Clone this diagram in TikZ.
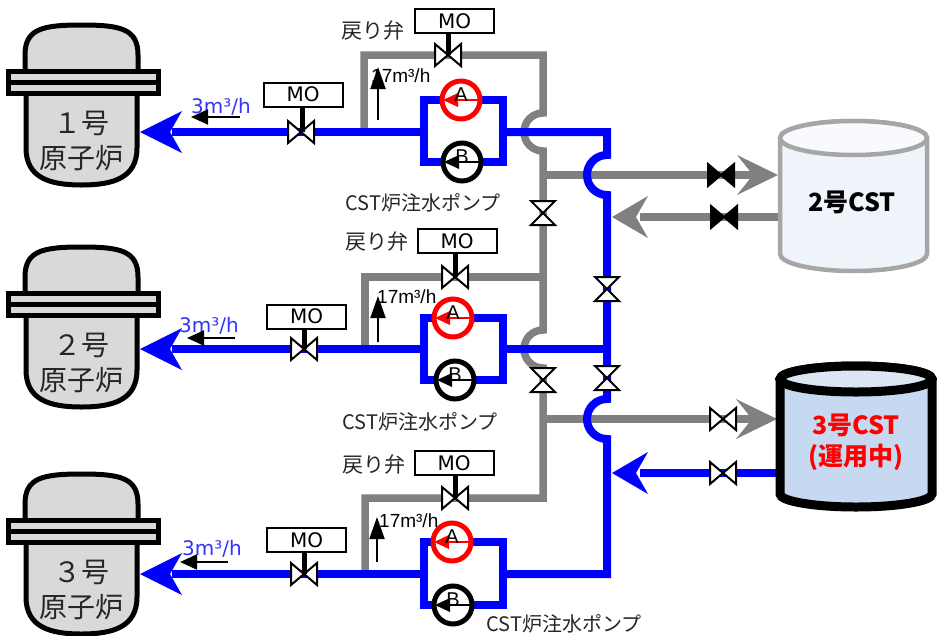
\documentclass[tikz,border=0pt]{standalone}
\usepackage{fontspec}
\setmainfont{Noto Sans CJK JP}
\newfontfamily\jpf{Noto Sans CJK JP}
\newfontfamily\dvsf{DejaVu Sans}
\newfontfamily\libf{Liberation Sans}
\usetikzlibrary{arrows.meta}
\definecolor{pblue}{HTML}{0000FF}
\definecolor{pgray}{HTML}{808080}
\definecolor{rfill}{HTML}{D9D9D9}
\definecolor{tktwofill}{HTML}{EFF3FA}
\definecolor{tktwotop}{HTML}{F8FAFD}
\definecolor{tktwoline}{HTML}{A6A6A6}
\definecolor{tkthreefill}{HTML}{C6D9F0}
\definecolor{tkthreetop}{HTML}{DCE6F2}
\definecolor{flowblue}{HTML}{3333FF}
\definecolor{lbl}{HTML}{262626}
\tikzset{
  bpipe/.style={draw=pblue, line width=8pt},
  gpipe/.style={draw=pgray, line width=7.5pt},
  valvest/.style={draw=black, fill=white, line width=2pt},
  valveblk/.style={draw=black, fill=black, line width=2pt},
  stem/.style={draw=black, line width=5pt},
  mobox/.style={draw=black, fill=white, line width=2pt, minimum width=79pt, minimum height=24pt, inner sep=0pt, font=\dvsf\fontsize{20}{20}\selectfont},
  reactor/.style={draw=black, fill=rfill, line width=5pt},
  rtext/.style={font=\jpf\fontsize{28}{28}\selectfont, text=lbl, inner sep=0pt},
  jlabel/.style={font=\jpf\fontsize{20}{20}\selectfont, text=lbl, inner sep=0pt, anchor=base},
  flowtxt/.style={font=\dvsf\fontsize{20}{20}\selectfont, text=flowblue, inner sep=0pt, anchor=base},
  rettxt/.style={font=\libf\fontsize{19}{19}\selectfont, text=black, inner sep=0pt, anchor=base west},
  smallarrow/.style={draw=black, line width=2pt, -{Triangle[length=17pt,width=15pt]}},
  uparrow/.style={draw=black, line width=2pt, -{Triangle[length=22pt,width=15pt]}},
  pumpc/.style={circle, line width=5pt, fill=white, minimum size=38pt, inner sep=0pt},
  pletter/.style={font=\libf\fontsize{20}{20}\selectfont, text=black, inner sep=0pt},
  tanktxt/.style={font=\jpf\bfseries\fontsize{25}{25}\selectfont, inner sep=0pt, anchor=base},
  hvalve/.pic={\path[valvest] (-13,-11) -- (13,11) -- (13,-11) -- (-13,11) -- cycle;},
  vvalve/.pic={\path[valvest] (-12,-12) -- (12,-12) -- (-12,12) -- (12,12) -- cycle;},
  hvalveb/.pic={\path[valveblk] (-13,-11) -- (13,11) -- (13,-11) -- (-13,11) -- cycle;}
}
\newcommand\drawreactor[3]{%
  \begin{scope}[shift={(0,#2)}]
    \filldraw[reactor] (25,1) -- (25,-16) .. controls (25,-42) and (42,-46) .. (81.5,-46) .. controls (121,-46) and (138,-42) .. (138,-16) -- (138,1);
    \filldraw[reactor] (26,21) -- (26,77) .. controls (26,107) and (50,114) .. (81.5,114) .. controls (113,114) and (137,107) .. (137,77) -- (137,21);
    \filldraw[reactor] (8,0) rectangle (158,11);
    \filldraw[reactor] (8,11) rectangle (158,22);
    \node[rtext, anchor=base] (#1n) at (81.5,62) {#3号};
    \node[rtext, anchor=base] (#1t) at (81.5,97) {原子炉};
  \end{scope}}
\newcommand\pumpsym[5]{%
  \node[pumpc, draw=#4] (#1) at (#2,#3) {};
  \begin{scope}[shift={(#2,#3)}]
    \fill[#4] (-18,0) -- (-3,-7) -- (-3,7) -- cycle;
    \draw[#4, line width=2pt] (-3,0) -- (20,0);
    \node[pletter] (#1l) at (0,-5) {#5};
  \end{scope}}
\newcommand\leftarrowhead[5]{% color, tip x, y, length, halfwidth
  \fill[#1] (#2,#3) -- ({#2+#4},{#3-#5}) -- ({#2+#4-12},#3) -- ({#2+#4},{#3+#5}) -- cycle;}
\newcommand\rightarrowhead[5]{%
  \fill[#1] (#2,#3) -- ({#2-#4},{#3-#5}) -- ({#2-#4+16},#3) -- ({#2-#4},{#3+#5}) -- cycle;}
\begin{document}
\begin{tikzpicture}[x=1pt,y=-1pt]
\useasboundingbox (0,0) rectangle (937,635);

% ---------- reactors ----------
\drawreactor{ra}{71}{１}
\drawreactor{rb}{293}{２}
\drawreactor{rc}{520}{３}

% ---------- coordinates ----------
\coordinate (hg1) at (543,55);
\coordinate (hg3) at (543,498);
\coordinate (hb1) at (607,132);
\coordinate (hb3) at (607,574);

% ---------- gray return lines and header ----------
\draw[gpipe] (364,132) -- (364,55) -- (hg1) -- (543,113) arc[start angle=270,end angle=90,radius=19] -- (543,330) arc[start angle=270,end angle=90,radius=19] -- (hg3) -- (365,498) -- (365,574);
\draw[gpipe] (365,349) -- (365,277) -- (543,277);
\draw[gpipe] (543,175) -- (760,175);
\draw[gpipe] (543,419) -- (760,419);
\draw[gpipe] (782,217) -- (640,217);

% ---------- blue lines ----------
\foreach \ym/\yt/\yb in {132/100/162, 349/318/380, 574/542/605}{
  \draw[bpipe] (172,\ym) -- (424,\ym);
  \draw[bpipe] (424,\yt) rectangle (503,\yb);
  \leftarrowhead{pblue}{140}{\ym}{42}{21}
}
\draw[bpipe] (503,132) -- (hb1) -- (607,155) arc[start angle=270,end angle=90,radius=20] -- (607,399) arc[start angle=270,end angle=90,radius=20] -- (hb3) -- (503,574);
\draw[bpipe] (503,349) -- (607,349);
\draw[bpipe] (782,473) -- (640,473);

% ---------- arrowheads at tanks / header ----------
\rightarrowhead{pgray}{778}{175}{41}{20}
\rightarrowhead{pgray}{777}{419}{41}{20}
\leftarrowhead{pgray}{612}{217}{36}{21}
\leftarrowhead{pblue}{612}{473}{36}{21}

% ---------- valves ----------
\pic at (301,132) {hvalve};
\pic at (304,349) {hvalve};
\pic at (304,574) {hvalve};
\pic at (448,55) {hvalve};
\pic at (455,277) {hvalve};
\pic at (455,498) {hvalve};
\pic at (543,213) {vvalve};
\pic at (543,380) {vvalve};
\pic at (607,289) {vvalve};
\pic at (607,378) {vvalve};
\pic at (721,175) {hvalveb};
\pic at (724,217) {hvalveb};
\pic at (723,419) {hvalve};
\pic at (723,473) {hvalve};

% ---------- MO actuators ----------
\node[mobox] (moa) at (303,94.5) {MO};
\node[mobox] (mob) at (306.5,316.5) {MO};
\node[mobox] (moc) at (306.5,540) {MO};
\node[mobox] (mora) at (454.5,21) {MO};
\node[mobox] (morb) at (457,241) {MO};
\node[mobox] (morc) at (454,463) {MO};
\draw[stem] (302,107) -- (302,132);
\draw[stem] (304,329) -- (304,349);
\draw[stem] (304,552) -- (304,574);
\draw[stem] (448,33) -- (448,55);
\draw[stem] (455,253) -- (455,277);
\draw[stem] (455,475) -- (455,498);

% ---------- pumps ----------
\pumpsym{pa1}{461}{100}{red}{A}
\pumpsym{pb1}{462}{162}{black}{B}
\pumpsym{pa2}{453}{318}{red}{A}
\pumpsym{pb2}{455}{380}{black}{B}
\pumpsym{pa3}{452}{542}{red}{A}
\pumpsym{pb3}{453}{605}{black}{B}

% ---------- tanks ----------
\filldraw[draw=tktwoline, fill=tktwofill, line width=4.5pt] (780,138) -- (780,254) arc[start angle=180,end angle=0,x radius=73.5,y radius=17] -- (927,138) arc[start angle=0,end angle=-180,x radius=73.5,y radius=17] -- cycle;
\filldraw[draw=tktwoline, fill=tktwotop, line width=4.5pt] (853.5,138) ellipse[x radius=73.5,y radius=17];
\node[tanktxt, text=black] (t2) at (852,211) {2号CST};

\filldraw[draw=black, fill=tkthreefill, line width=9pt] (780,379) -- (780,494) arc[start angle=180,end angle=0,x radius=76,y radius=13] -- (932,379) arc[start angle=0,end angle=-180,x radius=76,y radius=13] -- cycle;
\filldraw[draw=black, fill=tkthreetop, line width=9pt] (856,379) ellipse[x radius=76,y radius=13];
\node[tanktxt, text=red] (t3a) at (856,434) {3号CST};
\node[tanktxt, text=red] (t3b) at (856,465) {(運用中)};

% ---------- labels ----------
\node[flowtxt] (fa) at (221,113) {3m³/h};
\node[flowtxt] (fb) at (209,332) {3m³/h};
\node[flowtxt] (fc) at (212,555) {3m³/h};
\draw[smallarrow] (240,117) -- (191,117);
\draw[smallarrow] (235,338) -- (187,338);
\draw[smallarrow] (228,562) -- (180,562);

\node[rettxt] (ra17) at (371,82) {17m³/h};
\node[rettxt] (rb17) at (377,303) {17m³/h};
\node[rettxt] (rc17) at (379,527) {17m³/h};
\draw[uparrow] (378,120) -- (378,67);
\draw[uparrow] (378,342) -- (378,296);
\draw[uparrow] (377,562) -- (377,517);

\node[jlabel, font=\jpf\fontsize{21}{21}\selectfont] (ca) at (373,38) {戻り弁};
\node[jlabel, font=\jpf\fontsize{21}{21}\selectfont] (cb) at (377,249) {戻り弁};
\node[jlabel, font=\jpf\fontsize{21}{21}\selectfont] (cc) at (374,472) {戻り弁};

\node[jlabel] (pla) at (423,210) {CST炉注水ポンプ};
\node[jlabel] (plb) at (420,429) {CST炉注水ポンプ};
\node[jlabel] (plc) at (564,631) {CST炉注水ポンプ};
\end{tikzpicture}
\end{document}
